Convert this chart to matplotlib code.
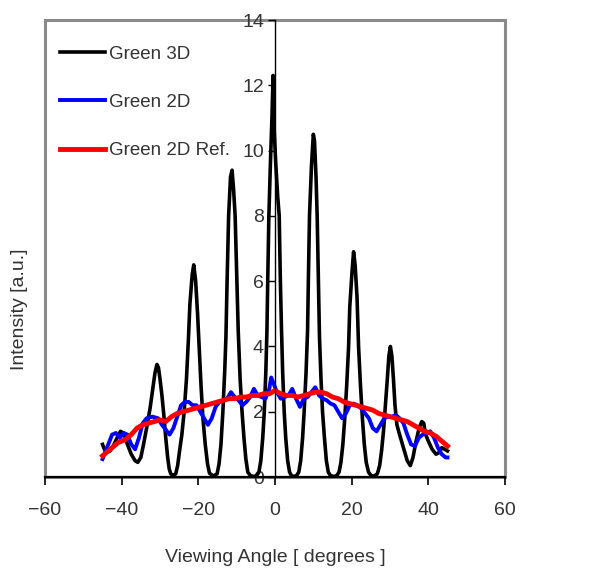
"""Viewing-angle intensity profiles: Green 3D vs Green 2D vs Green 2D reference."""

import matplotlib
matplotlib.use("Agg")
import matplotlib.pyplot as plt
from matplotlib.patches import Rectangle

plt.rcParams["font.family"] = ["Liberation Sans", "DejaVu Sans"]

# Green 3D (black), peak by peak
angle_3d = [
    -45.0, -44.5, -44.0, -43.0, -42.0, -41.0, -40.3, -39.5, -38.5, -37.5, -36.5, -35.8,
    -35.0, -34.3, -33.5, -32.6, -31.9, -31.3, -30.8, -30.4, -30.0, -29.5, -29.0, -28.5,
    -28.0, -27.6, -27.2, -26.6,
    -25.9, -25.4, -24.9, -24.3, -23.7, -23.1, -22.6, -22.2, -21.6, -21.2, -20.7, -20.2,
    -19.8, -19.3, -18.8, -18.2, -17.6, -17.1, -16.1,
    -15.1, -14.6, -14.1, -13.6, -13.1, -12.8, -12.5, -12.1, -11.6, -11.2, -10.8, -10.4,
    -10.0, -9.6, -9.1, -8.6, -8.1, -7.6, -7.1, -6.4, -5.6,
    -4.8, -4.2, -3.7, -3.2, -2.8, -2.4, -2.1, -1.9, -1.6, -1.2, -0.8, -0.5,
    -0.2, 0.2, 0.7, 1.1, 1.4, 1.7, 2.0, 2.4, 2.8, 3.3, 3.8, 4.3, 4.9,
    5.6, 6.2, 6.7, 7.2, 7.6, 8.1, 8.5, 8.7, 9.0, 9.5, 10.0, 10.3,
    10.7, 11.0, 11.3, 11.6, 12.0, 12.4, 12.9, 13.4, 13.9, 14.5, 15.3,
    16.1, 16.7, 17.2, 17.7, 18.2, 18.7, 19.2, 19.5, 20.1, 20.5, 20.9, 21.4,
    21.8, 22.3, 22.8, 23.3, 23.8, 24.4, 25.1, 25.9,
    26.7, 27.3, 27.8, 28.3, 28.8, 29.3, 29.7, 30.1, 30.5, 30.9, 31.3, 31.8,
    32.5, 33.5, 34.5, 35.3,
    36.0, 36.8, 37.6, 38.3, 38.8, 39.3, 40.0, 41.0, 42.0, 42.8, 43.5, 44.3,
    45.0,
]
intensity_3d = [
    1.0, 0.85, 0.75, 0.8, 1.0, 1.25, 1.4, 1.35, 1.0, 0.7, 0.5, 0.45,
    0.6, 1.0, 1.5, 2.1, 2.7, 3.2, 3.45, 3.35, 3.0, 2.5, 1.9, 1.2,
    0.6, 0.25, 0.1, 0.05,
    0.1, 0.35, 0.8, 1.3, 2.0, 3.0, 4.2, 5.3, 6.2, 6.5, 6.0, 5.0,
    4.0, 2.8, 1.8, 1.0, 0.4, 0.12, 0.03,
    0.1, 0.4, 1.0, 2.0, 3.3, 4.3, 6.0, 8.0, 9.2, 9.4, 8.8, 8.0,
    6.3, 4.5, 3.0, 2.0, 1.2, 0.55, 0.15, 0.04, 0.02,
    0.04, 0.15, 0.5, 1.2, 2.0, 3.2, 4.5, 6.0, 8.0, 9.6, 11.0, 12.3,
    10.6, 9.6, 8.6, 8.0, 6.0, 4.5, 3.2, 2.0, 1.2, 0.5, 0.15, 0.04, 0.02,
    0.04, 0.15, 0.5, 1.2, 2.0, 3.2, 4.5, 6.0, 8.0, 9.5, 10.5, 10.3,
    9.2, 8.0, 6.2, 4.3, 3.0, 2.0, 1.2, 0.5, 0.15, 0.04, 0.02,
    0.04, 0.15, 0.45, 1.0, 1.8, 2.8, 4.0, 5.2, 6.3, 6.9, 6.5, 5.5,
    4.0, 2.8, 1.8, 1.0, 0.45, 0.15, 0.04, 0.03,
    0.1, 0.35, 0.8, 1.4, 2.2, 3.0, 3.7, 4.0, 3.7, 3.0, 2.2, 1.6,
    1.3, 0.9, 0.5, 0.35,
    0.6, 1.1, 1.5, 1.7, 1.65, 1.3, 1.1, 0.85, 0.7, 0.75, 0.9, 0.85,
    0.8,
]

# Green 2D (blue)
angle_2d = [
    -45.0, -44.5, -43.5, -42.5, -41.5, -40.5, -39.5, -38.5, -37.5, -36.5, -35.5, -34.5,
    -33.5, -32.0, -30.5, -29.5, -28.5, -27.5, -26.5, -25.5, -24.5, -23.5, -22.5, -21.5,
    -20.5, -19.5, -18.5, -17.5, -16.5, -15.5, -14.5, -13.5, -12.5, -11.5, -10.5, -9.5,
    -8.5, -7.5, -6.5, -5.5, -4.5, -3.5, -2.5, -1.5, -1.0, -0.5, 0.5, 1.5,
    2.5, 3.5, 4.5, 5.5, 6.5, 7.5, 8.5, 9.5, 10.5, 11.5, 12.5, 13.5,
    14.5, 15.5, 16.5, 17.5, 18.5, 19.5, 20.5, 21.5, 22.5, 23.5, 24.5, 25.5,
    26.5, 27.5, 28.5, 29.5, 30.5, 31.5, 32.5, 33.5, 34.5, 35.5, 36.5, 37.5,
    38.5, 39.5, 40.5, 41.5, 42.5, 43.5, 44.5, 45.0,
]
intensity_2d = [
    0.55, 0.7, 1.0, 1.3, 1.35, 1.2, 1.35, 1.3, 1.0, 0.85, 1.2, 1.65,
    1.8, 1.85, 1.8, 1.6, 1.45, 1.3, 1.5, 1.85, 2.2, 2.3, 2.3, 2.2,
    2.2, 2.0, 1.8, 1.6, 1.8, 2.15, 2.3, 2.35, 2.4, 2.6, 2.45, 2.35,
    2.2, 2.3, 2.45, 2.7, 2.5, 2.45, 2.4, 2.7, 3.05, 2.9, 2.6, 2.4,
    2.45, 2.5, 2.7, 2.4, 2.15, 2.4, 2.45, 2.6, 2.75, 2.5, 2.4, 2.35,
    2.25, 2.2, 2.0, 1.8, 1.95, 2.2, 2.25, 2.2, 2.1, 1.95, 1.8, 1.5,
    1.4, 1.6, 1.8, 1.85, 1.85, 1.9, 1.8, 1.65, 1.3, 1.0, 0.95, 1.2,
    1.3, 1.35, 1.4, 1.2, 0.9, 0.7, 0.6, 0.6,
]

# Green 2D Ref. (red)
angle_ref = [
    -45.0, -44.0, -42.5, -41.0, -39.0, -37.5, -36.0, -34.5, -33.0, -31.5, -30.0, -28.5,
    -27.0, -25.5, -24.0, -22.5, -21.0, -19.5, -18.0, -16.5, -15.0, -13.5, -12.0, -10.5,
    -9.0, -7.5, -6.0, -4.5, -3.0, -1.5, 0.0, 1.5, 3.0, 4.5, 6.0, 7.5,
    9.0, 10.5, 12.0, 13.5, 15.0, 16.5, 18.0, 19.5, 21.0, 22.5, 24.0, 25.5,
    27.0, 28.5, 30.0, 31.5, 33.0, 34.5, 36.0, 37.5, 39.0, 40.5, 42.0, 43.5,
    45.0,
]
intensity_ref = [
    0.65, 0.75, 0.9, 1.05, 1.15, 1.3, 1.5, 1.6, 1.65, 1.7, 1.75, 1.7,
    1.85, 1.95, 2.0, 2.05, 2.1, 2.15, 2.2, 2.25, 2.3, 2.35, 2.4, 2.4,
    2.45, 2.45, 2.5, 2.5, 2.55, 2.55, 2.65, 2.55, 2.5, 2.5, 2.45, 2.5,
    2.55, 2.6, 2.6, 2.55, 2.45, 2.4, 2.3, 2.25, 2.2, 2.15, 2.1, 2.05,
    1.95, 1.9, 1.85, 1.8, 1.75, 1.7, 1.6, 1.5, 1.4, 1.35, 1.25, 1.1,
    0.95,
]

x_ticks = [-60, -40, -20, 0, 20, 40, 60]
y_ticks = [0, 2, 4, 6, 8, 10, 12, 14]

TEXT_COLOR = "#333333"

fig = plt.figure(figsize=(6.05, 5.72), dpi=100)
ax = fig.add_axes([0.0744, 0.166, 0.7603, 0.799])

ax.plot(angle_3d, intensity_3d, color="black", linewidth=2.6, label="Green 3D", zorder=3)
ax.plot(angle_2d, intensity_2d, color="#0000ff", linewidth=2.8, label="Green 2D", zorder=4)
ax.plot(angle_ref, intensity_ref, color="#ff0000", linewidth=3.5, label="Green 2D Ref.", zorder=5)

ax.set_xlim(-60, 60)
ax.set_ylim(0, 14)
ax.set_xticks(x_ticks)
ax.set_yticks(y_ticks)

# grey plot-area frame, black axes crossing at the origin
ax.add_patch(Rectangle((0, 0), 1, 1, transform=ax.transAxes, fill=False,
                       edgecolor="#8a8a8a", linewidth=2.2, clip_on=False, zorder=1))
for side in ("top", "right"):
    ax.spines[side].set_visible(False)
ax.spines["left"].set_position(("data", 0))
ax.spines["left"].set_color("black")
ax.spines["left"].set_linewidth(1.0)
ax.spines["left"].set_zorder(6)
ax.spines["bottom"].set_color("black")
ax.spines["bottom"].set_linewidth(1.6)
ax.spines["bottom"].set_zorder(6)

ax.tick_params(axis="x", direction="out", length=6, width=1.2, colors="black",
               labelcolor=TEXT_COLOR, labelsize=14, pad=12)
ax.tick_params(axis="y", direction="out", length=5, width=1.0, colors="black",
               labelcolor=TEXT_COLOR, labelsize=14, pad=3)

fig.text(0.455, 0.026, "Viewing Angle [ degrees ]", ha="center", va="center",
         fontsize=14, color=TEXT_COLOR)
fig.text(0.033, 0.46, "Intensity [a.u.]", ha="center", va="center",
         rotation=90, fontsize=14, color=TEXT_COLOR)

leg = ax.legend(loc="upper left", bbox_to_anchor=(-0.005, 0.981), frameon=False,
                fontsize=13.5, handlelength=2.4, handletextpad=0.25, labelspacing=1.66)
for text in leg.get_texts():
    text.set_color(TEXT_COLOR)

fig.savefig("out.png", dpi=100)
